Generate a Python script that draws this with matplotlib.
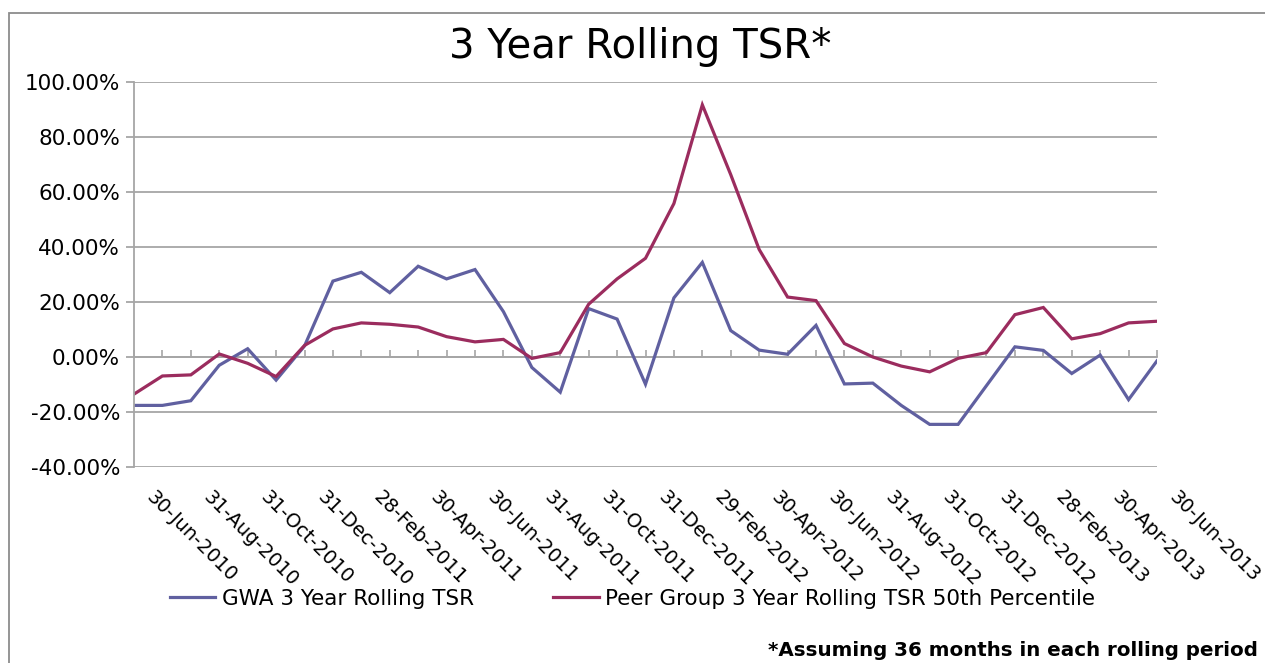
import numpy as np
import matplotlib
matplotlib.use('Agg')
import matplotlib.pyplot as plt
from matplotlib.patches import Rectangle
from matplotlib.ticker import FuncFormatter, MultipleLocator
from matplotlib.transforms import ScaledTranslation

# monthly month-end dates, 30-Jun-2010 .. 30-Jun-2013
dates = ['30-Jun-2010', '31-Jul-2010', '31-Aug-2010', '30-Sep-2010', '31-Oct-2010', '30-Nov-2010',
         '31-Dec-2010', '31-Jan-2011', '28-Feb-2011', '31-Mar-2011', '30-Apr-2011', '31-May-2011',
         '30-Jun-2011', '31-Jul-2011', '31-Aug-2011', '30-Sep-2011', '31-Oct-2011', '30-Nov-2011',
         '31-Dec-2011', '31-Jan-2012', '29-Feb-2012', '31-Mar-2012', '30-Apr-2012', '31-May-2012',
         '30-Jun-2012', '31-Jul-2012', '31-Aug-2012', '30-Sep-2012', '31-Oct-2012', '30-Nov-2012',
         '31-Dec-2012', '31-Jan-2013', '28-Feb-2013', '31-Mar-2013', '30-Apr-2013', '31-May-2013',
         '30-Jun-2013']

# values in percent
gwa = [-17.6, -17.6, -15.9, -3.0, 3.0, -8.4, 4.0, 27.6, 30.8, 23.4, 33.0, 28.4, 31.8,
       16.5, -3.8, -12.8, 17.6, 13.8, -9.9, 21.5, 34.4, 9.6, 2.5, 1.0, 11.5, -9.8, -9.5,
       -17.6, -24.5, -24.5, -10.4, 3.7, 2.4, -6.0, 0.7, -15.5, -1.4]
peer = [-13.5, -6.9, -6.5, 1.1, -2.3, -7.1, 4.2, 10.2, 12.4, 11.9, 10.9, 7.4, 5.5,
        6.4, -0.5, 1.6, 19.2, 28.4, 35.9, 55.8, 91.7, 66.3, 39.1, 21.8, 20.5, 4.9, 0.0,
        -3.3, -5.4, -0.5, 1.6, 15.4, 18.0, 6.6, 8.5, 12.4, 13.0]

W, H = 1265, 663
fig = plt.figure(figsize=(W / 100, H / 100), dpi=100)
ax = fig.add_axes([134 / W, 1 - 467 / H, (1157 - 134) / W, (467 - 82) / H])

blue = '#6060A0'
red = '#9B2C5E'
grid_col = '#A6A6A6'

x = np.arange(len(dates))
ax.plot(x, gwa, color=blue, lw=2.3, label='GWA 3 Year Rolling TSR', solid_joinstyle='miter')
ax.plot(x, peer, color=red, lw=2.3, label='Peer Group 3 Year Rolling TSR 50th Percentile',
        solid_joinstyle='miter')

ax.set_xlim(0, len(dates) - 1)
ax.set_ylim(-40, 100)
ax.yaxis.set_major_locator(MultipleLocator(20))
ax.yaxis.set_major_formatter(FuncFormatter(lambda v, p: '%.2f%%' % v))
ax.grid(axis='y', color=grid_col, lw=1.3)
ax.set_axisbelow(True)
for s in ['top', 'right', 'bottom']:
    ax.spines[s].set_visible(False)
ax.spines['left'].set_color(grid_col)
ax.spines['left'].set_linewidth(1.3)
ax.tick_params(axis='y', length=6, color=grid_col, width=1.3, labelsize=15.5, pad=4)

# category labels every second month, at the bottom
ax.set_xticks(x[::2])
ax.set_xticklabels(dates[::2], rotation=-45, ha='left', va='top', rotation_mode='anchor',
                   fontsize=14)
ax.tick_params(axis='x', length=0, pad=15)
shift = ScaledTranslation(16 / 72, 0, fig.dpi_scale_trans)
for lbl in ax.get_xticklabels():
    lbl.set_transform(lbl.get_transform() + shift)

# category axis line crosses at zero with small tick marks
y0, y1 = ax.get_ylim()
sec = ax.secondary_xaxis((0 - y0) / (y1 - y0))
sec.set_xticks(x)
sec.tick_params(axis='x', direction='in', length=5, color=grid_col, width=1.2, labelbottom=False)
sec.spines['bottom'].set_color(grid_col)
sec.spines['bottom'].set_linewidth(1.3)

fig.text(640 / W, 1 - 47 / H, '3 Year Rolling TSR*', ha='center', va='center', fontsize=29)

fig.legend(loc='center left', bbox_to_anchor=(170 / W, 1 - 599 / H), ncol=2, frameon=False,
           fontsize=15.5, handlelength=2.1, handletextpad=0.3, columnspacing=3.7, borderpad=0,
           borderaxespad=0)

fig.text(1258 / W, 1 - 651 / H, '*Assuming 36 months in each rolling period', ha='right',
         va='center', fontsize=14.3, fontweight='bold')

# chart area border
fig.patches.append(Rectangle((9 / W, -0.1), 1.2, 1.1 - 13 / H, transform=fig.transFigure,
                             fill=False, edgecolor='#8C8C8C', lw=1.3))

fig.savefig('out.png', dpi=100)
